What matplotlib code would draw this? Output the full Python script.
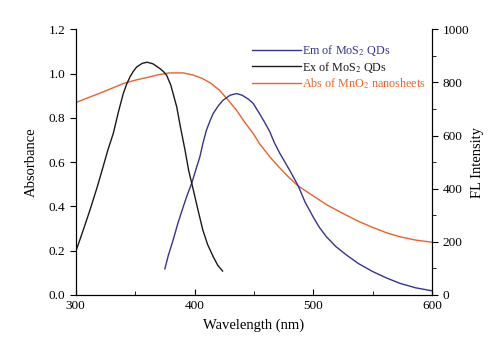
import numpy as np
from matplotlib import pyplot as plt
from matplotlib.ticker import MultipleLocator

plt.rcParams['font.family'] = ['Liberation Serif', 'DejaVu Serif']
plt.rcParams['mathtext.fontset'] = 'stix'

# Ex of MoS2 QDs (FL intensity)
ex_wl = [300, 306, 312, 318, 323, 327, 331.6, 336, 340, 343, 345.7, 348.5, 351.3, 356, 360.2, 365, 370.9,
         374, 376.5, 380, 385, 388, 392, 395, 399, 403, 407, 411, 415.7, 419.5, 423.6]
ex_fl = [163, 240, 320, 405, 482, 545, 608, 690, 758, 795, 821, 842, 858, 872, 876, 870, 852,
         840, 827, 790, 708, 635, 545, 470, 395, 318, 244, 190, 144, 112, 90]

# Em of MoS2 QDs (FL intensity)
em_wl = [375, 378, 382, 386, 390.5, 394, 397.6, 401, 404.5, 407, 410, 413, 415.7, 420, 424, 430, 435.4,
         440, 445, 449.4, 455, 459, 463.4, 467, 471.8, 480, 487.2, 493, 499.8, 505, 511, 519, 528,
         538, 550, 561, 572.7, 586, 599.4]
em_fl = [98, 150, 207, 270, 332, 378, 420, 470, 520, 570, 620, 655, 683, 712, 733, 752, 758,
         752, 738, 721, 680, 650, 614, 575, 533, 470, 411, 350, 294, 255, 219, 182, 150,
         118, 88, 65, 44, 27, 16]

# Abs of MnO2 nanosheets (absorbance)
abs_wl = [300, 310, 323, 340, 350, 359.7, 370, 379, 390.5, 399, 407, 414, 421, 428, 435.4, 442, 449.4,
          455, 463.4, 471, 479, 487, 500, 512, 525, 537, 550, 561, 572.7, 586, 600]
abs_val = [0.869, 0.89, 0.917, 0.955, 0.97, 0.982, 0.995, 1.003, 1.003, 0.993, 0.977, 0.955, 0.925,
           0.882, 0.834, 0.782, 0.729, 0.681, 0.624, 0.578, 0.533, 0.493, 0.447, 0.405, 0.368,
           0.335, 0.305, 0.282, 0.263, 0.248, 0.238]

c_em = '#35358f'
c_ex = '#1a1a1a'
c_abs = '#e8622a'

fig = plt.figure(figsize=(4.95, 3.47), dpi=100)
ax = fig.add_axes([0.153, 0.150, 0.720, 0.7656])
ax2 = ax.twinx()

l_abs, = ax.plot(abs_wl, abs_val, color=c_abs, lw=1.0)
l_em, = ax2.plot(em_wl, em_fl, color=c_em, lw=1.0)
l_ex, = ax2.plot(ex_wl, ex_fl, color=c_ex, lw=1.0)

ax.set_xlim(300, 600)
ax.set_ylim(0, 1.2)
ax2.set_ylim(0, 1000)

ax.xaxis.set_major_locator(MultipleLocator(100))
ax.xaxis.set_minor_locator(MultipleLocator(50))
ax.yaxis.set_major_locator(MultipleLocator(0.2))
ax.set_yticklabels([f'{v:.1f}' for v in ax.get_yticks()])
ax2.yaxis.set_major_locator(MultipleLocator(200))
ax2.yaxis.set_minor_locator(MultipleLocator(100))

ax.tick_params(axis='x', which='both', direction='in', labelsize=9.5)
ax.tick_params(axis='x', which='major', length=4)
ax.tick_params(axis='x', which='minor', length=3)
ax.tick_params(axis='y', direction='out', labelsize=9.5, length=4)
ax2.tick_params(axis='y', which='major', direction='out', labelsize=9.5, length=4)
ax2.tick_params(axis='y', which='minor', direction='out', length=3)

for a in (ax, ax2):
    a.spines['top'].set_visible(False)

ax.set_xlabel('Wavelength (nm)', fontsize=10.5, labelpad=5)
ax.set_ylabel('Absorbance', fontsize=10.5, labelpad=8)
ax2.set_ylabel('FL Intensity', fontsize=10.5, labelpad=1)

leg = ax.legend([l_em, l_ex, l_abs],
                ['Em of MoS$_2$ QDs', 'Ex of MoS$_2$ QDs', 'Abs of MnO$_2$ nanosheets'],
                loc='upper left', bbox_to_anchor=(0.465, 0.99), frameon=False, fontsize=8.7,
                handlelength=4.0, handletextpad=0.1, labelspacing=0.15)
for txt, c in zip(leg.get_texts(), [c_em, c_ex, c_abs]):
    txt.set_color(c)

fig.savefig('out.png', dpi=100)
